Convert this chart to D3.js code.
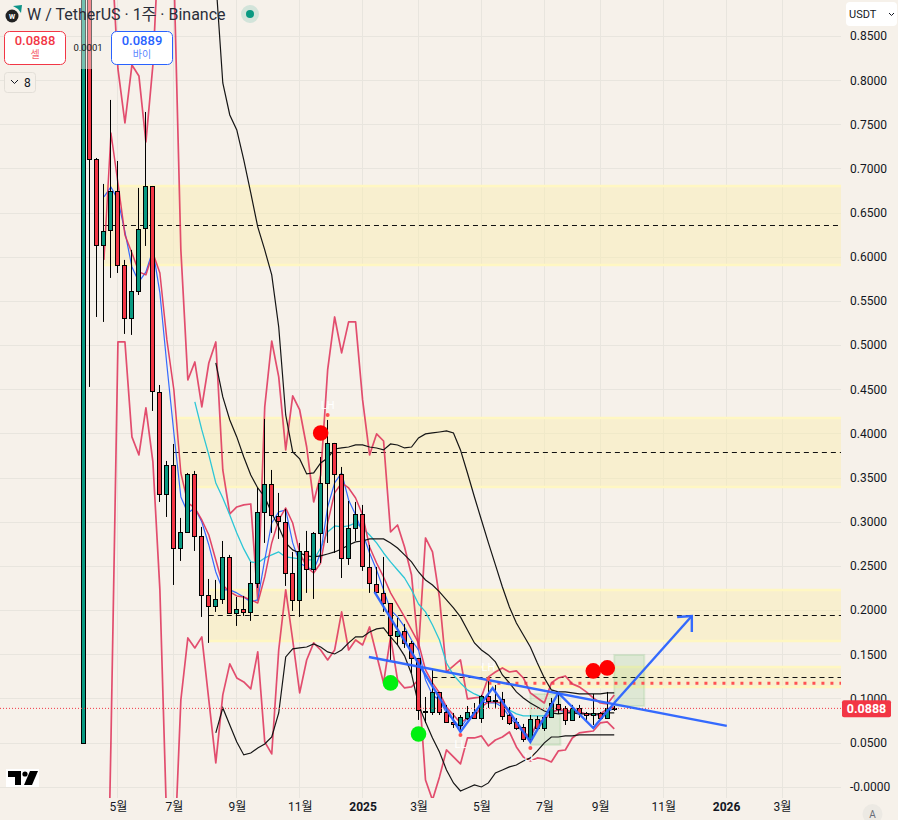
<!DOCTYPE html>
<html lang="ko"><head><meta charset="utf-8">
<script src="https://cdn.jsdelivr.net/npm/d3@7/dist/d3.min.js"></script>
<style>
html,body{margin:0;padding:0;background:#f6f1ea;overflow:hidden}
svg{display:block;font-family:Roboto,"Noto Sans CJK KR",sans-serif}
</style></head><body><svg id="c" width="898" height="820"></svg>
<script>
const N=null;
const opens=[.0495,1.10,.7108,.6134,.6304,.6746,.5908,.5308,.5614,.6327,.6802,.4470,.3315,.3644,.2704,.2885,.3542,.2840,.2172,.2047,.2127,.2602,.1968,.2013,.1980,.2308,.3112,.3429,.3066,.2998,.2421,.2116,.2670,.2466,.2874,.3440,.3893,.3542,.2591,.2931,.3089,.2489,.2297,.2195,.2081,.1708,.1764,.1629,.1459,.0859,.0847,.1074,.0847,.0734,.0700,.0780,.0847,.0780,.1029,.0983,.0995,.0813,.0734,.0678,.0542,.0768,.0666,.0791,.0938,.0893,.0757,.0893,.0836,.0813,.0836,.0779,.0893];
const highs=[1.15,1.15,.7119,.6825,.7776,.7085,.5965,.6078,.6780,.7640,.6802,.4549,.3689,.3881,.3044,.3553,.3576,.2942,.2353,.2342,.2783,.2625,.2149,.2161,.2546,.3383,.4165,.3587,.3327,.3146,.2659,.2761,.2897,.2885,.3734,.4153,.3893,.3621,.3236,.3225,.3191,.2738,.2489,.2602,.2081,.1912,.1844,.1651,.1459,.1017,.1323,.1074,.0927,.0836,.0813,.0915,.0949,.1040,.1210,.1153,.1074,.0904,.0779,.0712,.0813,.0802,.0813,.1006,.1040,.0915,.0927,.0927,.0847,.1051,.0847,.1074,.0915];
const lows=[.0495,.4527,.5319,.5263,.5761,.5817,.5127,.5116,.5568,.6123,.4255,.3225,.3055,.2285,.2557,.2885,.2670,.1923,.1629,.1980,.2070,.1957,.1821,.1934,.1878,.2251,.2761,.2874,.2806,.2274,.1991,.1923,.2195,.2127,.2534,.2761,.2647,.2364,.2512,.2783,.2444,.2195,.2195,.1980,.1436,.1606,.1572,.1289,.0757,.0723,.0813,.0813,.0723,.0666,.0644,.0757,.0780,.0723,.0893,.0893,.0757,.0700,.0644,.0508,.0497,.0644,.0632,.0791,.0825,.0700,.0746,.0779,.0757,.0700,.0768,.0779,.0859];
const closes=[1.10,.7108,.6134,.6293,.6746,.5908,.5308,.5614,.6315,.6802,.4481,.3315,.3644,.2704,.2885,.3542,.2840,.2172,.2047,.2127,.2602,.1968,.2013,.1980,.2308,.3112,.3429,.3078,.3010,.2421,.2116,.2670,.2466,.2874,.3440,.3893,.3542,.2591,.2931,.3089,.2500,.2308,.2206,.2081,.1719,.1764,.1629,.1459,.0870,.0847,.1074,.0847,.0734,.0712,.0791,.0847,.0780,.1029,.0972,.0972,.0802,.0723,.0666,.0542,.0768,.0666,.0791,.0949,.0881,.0757,.0893,.0836,.0813,.0836,.0779,.0893,.0888];
const upperBand=[N,N,N,N,.9587,.8127,.7515,.8172,.8048,.7300,.8172,.9814,.9814,.9248,.6078,.4606,.4810,.4300,.4798,.5036,.3587,.3089,.3168,.3191,.3202,.2116,.4300,.5047,.4640,.3814,.4425,.4266,.3847,.3225,.3530,.4719,.5319,.4912,.5263,.5263,.4380,.3757,.3995,.3915,.2885,.2964,.2715,.2398,.1549,.2817,.2659,.2138,.1300,.1368,.1436,.0995,.1006,.1017,.1244,.1300,.1346,.1300,.1312,.1232,.1063,.1006,.0949,.1176,.1232,.1255,.1165,.1131,.1074,.1006,.0949,.0938,.1040];
const lowerBand=[N,N,N,-.3545,.0519,.5036,.5036,.3961,.3757,.4289,.3678,.2229,-.0488,-.0952,.0983,.1685,.1572,.1697,.0983,.0270,.1040,.1391,.1232,.1187,.1108,.1527,.0508,.0372,.1549,.2229,.1662,.1063,.1436,.1629,.1549,.1436,.1549,.1980,.1549,.1662,.1606,.1810,.1493,.1176,.1697,.1210,.1119,.1131,.1210,.0077,-.0149,.0112,.0417,.0338,.0259,.0553,.0553,.0576,.0463,.0530,.0564,.0621,.0451,.0338,.0293,.0327,.0315,.0281,.0406,.0417,.0553,.0610,.0621,.0632,.0723,.0734,.0655];
const redMA=[N,N,N,.5965,.7402,.6836,.6248,.6044,.5829,.5795,.6044,.5817,.5059,.4493,.3553,.3214,.3157,.3021,.2851,.2568,.2285,.2206,.2161,.2149,.2116,.2081,.2376,.2761,.3021,.3157,.2987,.2647,.2489,.2421,.2534,.2987,.3327,.3440,.3383,.3270,.3078,.2715,.2534,.2376,.2195,.2059,.1923,.1776,.1629,.1323,.1176,.1063,.0904,.0813,.0723,.0779,.0791,.0904,.0961,.0961,.0949,.0836,.0723,.0621,.0564,.0734,.0757,.0847,.0870,.0870,.0847,.0847,.0825,.0813,.0825,.0881,.0904];
const blueMA=[N,N,N,.6678,.6791,.6644,.6282,.5885,.5716,.5829,.6078,.5591,.4776,.4006,.3281,.3100,.3157,.2998,.2738,.2432,.2229,.2229,.2195,.2149,.2093,.2116,.2568,.2987,.3112,.3134,.2761,.2534,.2489,.2455,.2647,.3168,.3440,.3553,.3248,.3078,.2874,.2647,.2455,.2229,.2002,.1923,.1810,.1662,.1549,.1210,.1040,.0983,.0836,.0757,.0666,.0779,.0813,.0961,.0949,.0949,.0904,.0791,.0700,.0610,.0553,.0723,.0757,.0847,.0870,.0847,.0836,.0836,.0825,.0813,.0813,.0847,.0893];
const cyanMA=[N,N,N,N,N,N,N,N,N,N,N,N,N,N,N,N,.4357,.4040,.3757,.3440,.3270,.3078,.2874,.2693,.2546,.2535,.2591,.2625,.2659,.2602,.2591,.2580,.2568,.2568,.2704,.2885,.2953,.2942,.2953,.2987,.2931,.2851,.2761,.2647,.2546,.2455,.2364,.2229,.2070,.1980,.1832,.1662,.1402,.1266,.1176,.1097,.1051,.1017,.0983,.0961,.0938,.0870,.0825,.0802,.0802,.0802,.0802,.0847,N,N,N,N,N,N,N,N,N];
const bbUpper=[N,N,N,N,N,N,N,N,N,N,N,N,N,N,N,N,N,N,N,.9134,.7968,.7606,.7436,.7097,.6723,.6338,.6078,.5795,.5206,.4210,.3791,.3712,.3542,.3553,.3666,.3723,.3825,.3836,.3847,.3870,.3870,.3847,.3836,.3814,.3881,.3870,.3836,.3847,.3949,.3995,.4006,.4017,.4029,.4006,.3814,.3553,.3281,.3021,.2761,.2512,.2262,.2036,.1855,.1719,.1583,.1402,.1232,.1097,.1074,.1074,.1063,.1051,.1051,.1051,.1051,.1063,.1063];
const bbMiddle=[N,N,N,N,N,N,N,N,N,N,N,N,N,N,N,N,N,N,N,.4798,.4414,.4153,.3961,.3734,.3530,.3383,.3281,.3100,.2942,.2761,.2682,.2647,.2614,.2602,.2614,.2636,.2659,.2693,.2738,.2772,.2783,.2806,.2806,.2806,.2761,.2704,.2625,.2546,.2432,.2342,.2285,.2206,.2116,.2025,.1923,.1776,.1629,.1549,.1493,.1414,.1266,.1176,.1074,.1006,.0949,.0904,.0858,.0836,.0825,.0836,.0836,.0825,.0825,.0825,.0825,.0836,.0836];
const bbLower=[N,N,N,N,N,N,N,N,N,N,N,N,N,N,N,N,N,N,N,.0610,.0893,.0700,.0508,.0361,.0383,.0440,.0485,.0564,.0836,.1470,.1561,.1572,.1583,.1617,.1583,.1527,.1504,.1549,.1629,.1697,.1697,.1753,.1787,.1799,.1697,.1606,.1482,.1278,.0927,.0734,.0553,.0395,.0191,.0044,-.0047,-.0013,.0021,-.0002,.0044,.0157,.0191,.0225,.0247,.0293,.0327,.0406,.0497,.0564,.0564,.0576,.0576,.0587,.0587,.0587,.0587,.0587,.0587];
const yTicks=[.85,.8,.75,.7,.65,.6,.55,.5,.45,.4,.35,.3,.25,.2,.15,.1,.05,0];
const xTickIdx=[5,13,22,31,40,48,57,66,74,83,92,100];
const xTickLabels=["5월","7월","9월","11월","2025","3월","5월","7월","9월","11월","2026","3월"];
const zoneTops=[.6802,.4176,.2228,.1357];
const zoneBottoms=[.5908,.3394,.1651,.1131];
const zoneLevels=[.6355,.3788,.1946,.1244];
const zoneStarts=[3,13,18,50];
const lastPrice=.0888, dottedLevel=.1173, dottedStart=58;
const trendIdx=[40.9,92.1], trendPrice=[.1470,.0689];
const zigIdx=[41.7,54,58.6,64,68,73,76], zigPrice=[.2206,.0621,.1119,.0508,.1063,.0666,.0949];
const arrowIdx=[76,87.1], arrowPrice=[.0949,.1934], headIdx=[85,87.1,87.1], headPrice=[.1923,.1934,.1753];
const boxIdx=[[76,80.3],[64,68.3]], boxPrice=[[.1493,.0915],[.1051,.0474]];
const bigDots=[[34,.4006,"#ff0000"],[44,.1176,"#00f010"],[48,.0598,"#00f010"],[73,.1312,"#ff0000"],[75,.1346,"#ff0000"]];
const pivots=[[35,.4210,"LH",.4323],[54,.0587,"LL",.0485],[58,.1221,"LH",.1357],[64,.0440,"LL",.0338]];

const paneR=841, paneB=798, W=898, H=820;
const svg=d3.select("#c");
const x=d3.scaleLinear().domain([0,100]).range([83,782]);
const y=d3.scaleLinear().domain([0,.85]).range([786.8,36]);
const px=v=>Math.floor(x(v))+.5;
const py=v=>Math.round(y(v));
svg.append("rect").attr("width",W).attr("height",H).attr("fill","#f6f1ea");
svg.append("defs").append("clipPath").attr("id","pane").append("rect").attr("width",paneR).attr("height",paneB);

const grid=svg.append("g").attr("stroke","#e8e5de").attr("stroke-width",1);
grid.selectAll(".h").data(yTicks).join("line").attr("x1",0).attr("x2",paneR).attr("y1",d=>py(d)+.5).attr("y2",d=>py(d)+.5);
grid.selectAll(".v").data(xTickIdx).join("line").attr("y1",0).attr("y2",paneB).attr("x1",d=>px(d)).attr("x2",d=>px(d));

const pane=svg.append("g").attr("clip-path","url(#pane)");
zoneTops.forEach((t,i)=>{
  const g=pane.append("g"), x0=x(zoneStarts[i]);
  g.append("rect").attr("x",x0).attr("y",y(t)).attr("width",paneR-x0).attr("height",y(zoneBottoms[i])-y(t)).attr("fill","#fbeeb0").attr("fill-opacity",.45);
  [t,zoneBottoms[i]].forEach(v=>g.append("line").attr("x1",x0).attr("x2",paneR).attr("y1",y(v)).attr("y2",y(v)).attr("stroke","#fff7c2").attr("stroke-width",2.5));
  g.append("line").attr("x1",x0).attr("x2",paneR).attr("y1",py(zoneLevels[i])+.5).attr("y2",py(zoneLevels[i])+.5).attr("stroke","#111").attr("stroke-dasharray","5 4");
});
boxIdx.forEach((b,i)=>pane.append("rect").attr("x",x(b[0])).attr("width",x(b[1])-x(b[0])).attr("y",y(boxPrice[i][0])).attr("height",y(boxPrice[i][1])-y(boxPrice[i][0]))
  .attr("fill","#4caf50").attr("fill-opacity",.14).attr("stroke","#4caf50").attr("stroke-opacity",.14).attr("stroke-width",2));
pane.append("line").attr("x1",x(dottedStart)).attr("x2",paneR).attr("y1",y(dottedLevel)).attr("y2",y(dottedLevel)).attr("stroke","#ff5252").attr("stroke-width",3).attr("stroke-dasharray","3 6");

const lineGen=d3.line().defined(d=>d!=null).x((d,i)=>x(i)).y(d=>y(d));
[[upperBand,"#de3058",1.7,.85],[lowerBand,"#de3058",1.7,.85],[cyanMA,"#2cc6d6",1.3,1],[blueMA,"#2962ff",1.2,.95],[redMA,"#de3058",1.5,.9]]
 .forEach(([s,c,w,o])=>pane.append("path").attr("d",lineGen(s)).attr("fill","none").attr("stroke",c).attr("stroke-width",w).attr("stroke-opacity",o).attr("stroke-linejoin","round"));
[bbUpper,bbMiddle,bbLower].forEach(s=>pane.append("path").attr("d",lineGen(s)).attr("fill","none").attr("stroke","#151515").attr("stroke-width",1.2));

const candles=pane.append("g").selectAll("g").data(opens.map((o,i)=>i)).join("g");
candles.append("line").attr("x1",px).attr("x2",px).attr("y1",i=>y(highs[i])).attr("y2",i=>y(lows[i])).attr("stroke","#000");
candles.append("rect").attr("x",i=>px(i)-2).attr("width",4)
  .attr("y",i=>py(Math.max(opens[i],closes[i]))+.5)
  .attr("height",i=>Math.max(py(Math.min(opens[i],closes[i]))-py(Math.max(opens[i],closes[i])),1))
  .attr("fill",i=>closes[i]>=opens[i]?"#089981":"#f23645").attr("stroke","#000");
pane.append("rect").attr("x",81).attr("width",12).attr("y",0).attr("height",69).attr("fill","#f6f1ea").attr("fill-opacity",.45);

pane.append("line").attr("x1",0).attr("x2",paneR).attr("y1",y(lastPrice)).attr("y2",y(lastPrice)).attr("stroke","#f23645").attr("stroke-dasharray","1 2");

const thick=(xs,ys,w)=>pane.append("path").attr("d",d3.line().x(d=>x(d[0])).y(d=>y(d[1]))(xs.map((v,i)=>[v,ys[i]]))).attr("fill","none").attr("stroke","#2962ff").attr("stroke-width",w).attr("stroke-opacity",.95);
thick(trendIdx,trendPrice,2.4);
thick(zigIdx,zigPrice,2.4);
thick(arrowIdx,arrowPrice,2.4);
thick(headIdx,headPrice,2.4);

pane.selectAll(".big").data(bigDots).join("circle").attr("cx",d=>x(d[0])).attr("cy",d=>y(d[1])).attr("r",7.8).attr("fill",d=>d[2]);
pane.selectAll(".piv").data(pivots).join("circle").attr("cx",d=>x(d[0])).attr("cy",d=>y(d[1])).attr("r",2).attr("fill","#ff5252");
pane.selectAll(".pivt").data(pivots).join("text").attr("x",d=>x(d[0])).attr("y",d=>y(d[3])+4).attr("text-anchor","middle").attr("font-size",11).attr("fill","#ffffff").text(d=>d[2]);

// axes
const yAxis=d3.axisRight(y).tickValues(yTicks).tickSize(0).tickPadding(0).tickFormat(d=>d===0?"-0.0000":d3.format(".4f")(d));
const yg=svg.append("g").attr("transform","translate(850,0)").call(yAxis);
yg.select(".domain").remove();
yg.selectAll("text").attr("font-size",12).attr("font-family",'Roboto,sans-serif').attr("fill","#131722");
const xAxis=d3.axisBottom(x).tickValues(xTickIdx).tickSize(0).tickPadding(0).tickFormat((d,i)=>xTickLabels[i]);
const xg=svg.append("g").attr("transform","translate(0,802)").call(xAxis);
xg.select(".domain").remove();
xg.selectAll("text").attr("font-size",12).attr("font-family",'Roboto,"Noto Sans CJK KR",sans-serif').attr("fill","#131722")
  .attr("font-weight",(d,i)=>/^\d{4}$/.test(xTickLabels[i])?700:400);

// last price label
svg.append("rect").attr("x",842).attr("y",y(lastPrice)-8).attr("width",49).attr("height",17).attr("rx",2).attr("fill","#f23645");
svg.append("text").attr("x",866.5).attr("y",y(lastPrice)+4.5).attr("text-anchor","middle").attr("font-size",12.5).attr("font-weight",700).attr("fill","#fff").text(d3.format(".4f")(lastPrice));

// header
const hdr=svg.append("g");
hdr.append("circle").attr("cx",12).attr("cy",16).attr("r",6.5).attr("fill","#222");
hdr.append("path").attr("d","M13 6 L22 5 L21 13 L18 9 Z").attr("fill","#0d9488");
hdr.append("text").attr("x",12).attr("y",18.5).attr("text-anchor","middle").attr("font-size",7).attr("font-weight",700).attr("fill","#fff").text("W");
hdr.append("text").attr("x",27).attr("y",20).attr("font-size",16).attr("fill","#2a2e39").text("W / TetherUS · 1주 · Binance");
hdr.append("circle").attr("cx",250).attr("cy",14).attr("r",9).attr("fill","#089981").attr("fill-opacity",.15);
hdr.append("circle").attr("cx",250).attr("cy",14).attr("r",4).attr("fill","#089981");
const btn=(bx,col,val,lab)=>{
  hdr.append("rect").attr("x",bx+.5).attr("y",31.5).attr("width",61).attr("height",33).attr("rx",5).attr("fill","#fff").attr("stroke",col);
  hdr.append("text").attr("x",bx+31).attr("y",45).attr("text-anchor","middle").attr("font-size",13).attr("font-weight",500).attr("fill",col).text(val);
  hdr.append("text").attr("x",bx+31).attr("y",58).attr("text-anchor","middle").attr("font-size",10).attr("fill",col).attr("fill-opacity",.8).text(lab);
};
btn(4,"#f23645","0.0888","셀");
btn(111,"#2962ff","0.0889","바이");
hdr.append("text").attr("x",88).attr("y",51).attr("text-anchor","middle").attr("font-size",9.5).attr("fill","#131722").text("0.0001");
hdr.append("rect").attr("x",4.5).attr("y",72.5).attr("width",31).attr("height",20).attr("rx",3).attr("fill","#f6f1ea").attr("stroke","#e3dfd8");
hdr.append("path").attr("d","M11 80 L14.5 83.5 L18 80").attr("fill","none").attr("stroke","#131722");
hdr.append("text").attr("x",24).attr("y",87).attr("font-size",12).attr("fill","#131722").text("8");

// currency button
svg.append("rect").attr("x",846).attr("y",2).attr("width",51).attr("height",24).attr("rx",4).attr("fill","#fff");
svg.append("text").attr("x",849).attr("y",18).attr("font-size",11).attr("fill","#131722").text("USDT");
svg.append("path").attr("d","M889 13 L891.5 15.5 L894 13").attr("fill","none").attr("stroke","#131722");

// auto button
svg.append("circle").attr("cx",872.5).attr("cy",814).attr("r",10).attr("fill","#ece9e3");
svg.append("text").attr("x",872.5).attr("y",817.5).attr("text-anchor","middle").attr("font-size",10).attr("fill","#6a6d78").text("A");

// logo
const logo=svg.append("g").attr("transform","translate(6,769)");
logo.append("rect").attr("width",33).attr("height",18).attr("fill","#fff");
logo.append("path").attr("d","M2 2 H15 V16 H9 V8 H2 Z").attr("fill","#000");
logo.append("circle").attr("cx",19).attr("cy",5).attr("r",2.6).attr("fill","#000");
logo.append("path").attr("d","M24 2 H32 L26 16 H18 Z").attr("fill","#000");
</script></body></html>
